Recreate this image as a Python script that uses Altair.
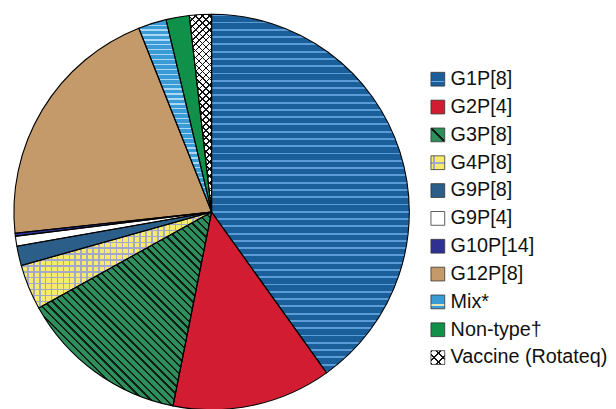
import math
import altair as alt
import pandas as pd

# ---- data ----
types = ["G1P[8]", "G2P[4]", "G3P[8]", "G4P[8]", "G9P[8]", "G9P[4]",
         "G10P[14]", "G12P[8]", "Mix*", "Non-type\u2020", "Vaccine (Rotateq)"]
shares = [40.1, 13.0, 13.8, 3.7, 1.6, 0.8, 0.25, 20.7, 2.3, 1.9, 1.8]

df = pd.DataFrame({"k": list(range(len(types))), "type": types, "share": shares})

R = 201  # pie radius in px (style)


def arc_bbox(i):
    total = sum(shares)
    a0 = sum(shares[:i]) / total * 360
    a1 = sum(shares[:i + 1]) / total * 360
    angs = [a0, a1] + [q for q in (0, 90, 180, 270, 360) if a0 < q < a1]
    pts = [(0.0, 0.0)] + [(R * math.sin(math.radians(a)), -R * math.cos(math.radians(a))) for a in angs]
    xs = [p[0] for p in pts]
    ys = [p[1] for p in pts]
    return max(max(xs) - min(xs), 1.0), max(max(ys) - min(ys), 1.0)


def stripes(W, H, ang, period, base, line, lw, phase=0.0):
    a = math.radians(ang)
    G = (W * math.cos(a), H * math.sin(a))
    s = [cx * G[0] + cy * G[1] for cx, cy in ((0, 0), (1, 0), (0, 1), (1, 1))]
    smin, smax = min(s), max(s)
    g2 = G[0] ** 2 + G[1] ** 2
    L = smax - smin
    stops = [(0.0, base)]
    k = -2
    while True:
        p0 = phase + k * period
        if p0 >= L:
            break
        p1 = p0 + lw
        k += 1
        if p1 <= 0:
            continue
        o0 = max(p0, 0) / L
        o1 = min(p1, L) / L
        stops += [(o0, base), (o0, line), (o1, line), (o1, base)]
    stops.append((1.0, base))
    clean = []
    last = 0.0
    for o, c in stops:
        o = round(max(o, last), 5)
        last = o
        clean.append({"offset": o, "color": c})
    return {"gradient": "linear",
            "x1": round(smin * G[0] / g2, 5), "y1": round(smin * G[1] / g2, 5),
            "x2": round(smax * G[0] / g2, 5), "y2": round(smax * G[1] / g2, 5),
            "stops": clean}


T = "transparent"
bb = [arc_bbox(i) for i in range(len(types))]

pie_base = {
    0: stripes(*bb[0], 90, 7.4, "#1a5f9a", "#5b9bd6", 1.9),
    1: "#d21c32",
    2: stripes(*bb[2], -45, 5.6, "#2e8e5c", "#0e1f15", 1.7),
    3: stripes(*bb[3], 90, 6.0, "#f7eb6c", "#a3a8c8", 1.6),
    4: "#2b5e88",
    5: "#ffffff",
    6: "#2e3192",
    7: "#c49a6a",
    8: stripes(*bb[8], 90, 5.0, "#3a9bd5", "#a8d8f5", 1.3),
    9: "#11904a",
    10: stripes(*bb[10], 45, 5.0, "#ffffff", "#111111", 1.2),
}
pie_over = {
    3: stripes(*bb[3], 0, 6.0, T, "#a3a8c8", 1.6),
    10: stripes(*bb[10], -45, 5.0, T, "#111111", 1.2),
}

S = 14
leg_base = {
    0: stripes(S, S, 90, 30, "#1a5f9a", "#6aa6dc", 1.6, phase=8.5),
    1: "#d21c32",
    2: stripes(S, S, -45, 40, "#2e8e5c", "#0e1f15", 2.0, phase=S * 1.4142 / 2 - 1.0),
    3: stripes(S, S, 90, 30, "#f7eb6c", "#a3a8c8", 1.6, phase=6.2),
    4: "#2b5e88",
    5: "#ffffff",
    6: "#2e3192",
    7: "#c49a6a",
    8: stripes(S, S, 90, 30, "#3a9bd5", "#e2e6b8", 1.4, phase=9.5),
    9: "#11904a",
    10: stripes(S, S, 45, 6.5, "#ffffff", "#111111", 1.1),
}
leg_over = {
    3: stripes(S, S, 0, 30, T, "#a3a8c8", 1.6, phase=2.5),
    10: stripes(S, S, -45, 6.5, T, "#111111", 1.1),
}


def cond_fill(spec, default):
    return {"condition": [{"test": f"datum.k === {k}", "value": v} for k, v in spec.items()],
            "value": default}


base = alt.Chart(df).encode(
    theta=alt.Theta("share:Q", stack=True),
    order=alt.Order("k:Q", sort="ascending"),
)
l1 = base.mark_arc(strokeWidth=0).encode(fill=cond_fill(pie_base, "#ffffff"))
l2 = base.mark_arc(stroke="#000000", strokeWidth=1.1).encode(fill=cond_fill(pie_over, T))
pie = alt.layer(l1, l2).properties(width=2 * R, height=2 * R)

lbase = alt.Chart(df).encode(
    y=alt.Y("k:O", axis=None, scale=alt.Scale(range=[66, 349], padding=0)),
    x=alt.value(16),
)
sq1 = lbase.mark_square(size=S * S, opacity=1, strokeWidth=0).encode(fill=cond_fill(leg_base, "#ffffff"))
sq2 = lbase.mark_square(size=S * S, opacity=1, stroke="#333333", strokeWidth=0.8).encode(
    fill=cond_fill(leg_over, T))
txt = lbase.mark_text(align="left", baseline="middle", dx=13, fontSize=20.1,
                      font="Liberation Sans", color="#111111").encode(text="type:N")
legend = alt.layer(sq1, sq2, txt).properties(width=184, height=2 * R)

chart = alt.hconcat(pie, legend, spacing=10).properties(
    padding={"left": 3, "top": 0, "right": 0, "bottom": 0}
).configure_view(strokeWidth=0)

chart.save("out.html", embed_options={"renderer": "svg", "actions": False})
